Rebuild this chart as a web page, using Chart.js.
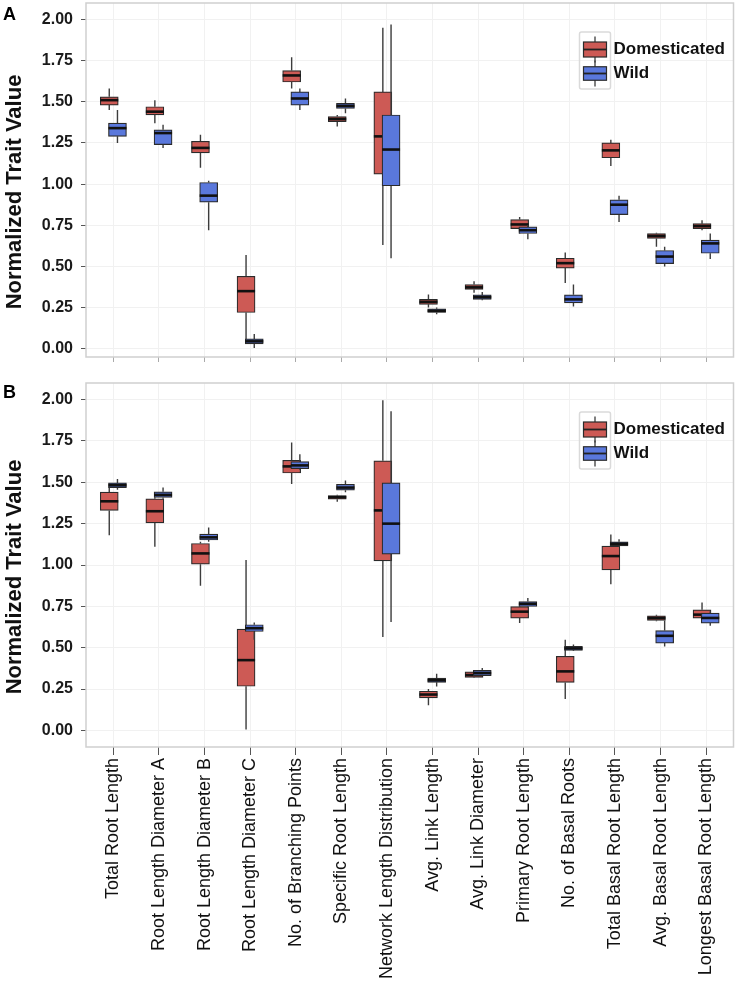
<!DOCTYPE html>
<html>
<head>
<meta charset="utf-8">
<script src="https://cdn.jsdelivr.net/npm/chart.js@4.4.1/dist/chart.umd.min.js"></script>
<style>
  body { margin: 0; background: #fff; width: 742px; height: 989px; overflow: hidden; position: relative; font-family: 'Liberation Sans', Arial, sans-serif; }
  canvas { position: absolute; left: 0; }
  #ca { top: 0; }
  #cb { top: 375px; }
  .tag { position: absolute; left: 3px; font-weight: bold; font-size: 18px; line-height: 18px; color: #000; }
</style>
</head>
<body>
<canvas id="ca" width="742" height="375"></canvas>
<canvas id="cb" width="742" height="614"></canvas>
<div class="tag" style="top:4.5px">A</div>
<div class="tag" style="top:382.5px">B</div>
<script>
const categories = ['Total Root Length', 'Root Length Diameter A', 'Root Length Diameter B', 'Root Length Diameter C',
  'No. of Branching Points', 'Specific Root Length', 'Network Length Distribution', 'Avg. Link Length',
  'Avg. Link Diameter', 'Primary Root Length', 'No. of Basal Roots', 'Total Basal Root Length',
  'Avg. Basal Root Length', 'Longest Basal Root Length'];
const yTicks = [0, 0.25, 0.5, 0.75, 1, 1.25, 1.5, 1.75, 2];

// panel A
const aDomLow  = [1.45, 1.37, 1.10, 0.05, 1.58, 1.35, 0.63, 0.25, 0.34, 0.70, 0.40, 1.11, 0.62, 0.72];
const aDomQ1   = [1.48, 1.42, 1.19, 0.22, 1.62, 1.38, 1.06, 0.27, 0.36, 0.73, 0.49, 1.16, 0.67, 0.73];
const aDomMed  = [1.51, 1.44, 1.22, 0.35, 1.66, 1.395, 1.29, 0.285, 0.373, 0.755, 0.52, 1.205, 0.685, 0.745];
const aDomQ3   = [1.53, 1.47, 1.26, 0.44, 1.69, 1.41, 1.56, 0.30, 0.39, 0.785, 0.55, 1.25, 0.70, 0.76];
const aDomHigh = [1.58, 1.51, 1.30, 0.57, 1.77, 1.42, 1.95, 0.33, 0.41, 0.80, 0.585, 1.27, 0.705, 0.78];

const aWildLow  = [1.25, 1.22, 0.72, 0.005, 1.45, 1.43, 0.55, 0.21, 0.295, 0.665, 0.257, 0.77, 0.50, 0.545];
const aWildQ1   = [1.29, 1.24, 0.89, 0.03, 1.48, 1.46, 0.99, 0.22, 0.30, 0.70, 0.278, 0.815, 0.517, 0.58];
const aWildMed  = [1.34, 1.31, 0.93, 0.045, 1.52, 1.475, 1.21, 0.23, 0.313, 0.72, 0.30, 0.875, 0.56, 0.64];
const aWildQ3   = [1.37, 1.33, 1.01, 0.06, 1.56, 1.49, 1.42, 0.243, 0.327, 0.74, 0.328, 0.905, 0.597, 0.66];
const aWildHigh = [1.45, 1.36, 1.02, 0.09, 1.58, 1.52, 1.97, 0.25, 0.345, 0.75, 0.39, 0.93, 0.62, 0.70];

// panel B
const bDomLow  = [1.18, 1.11, 0.875, 0.006, 1.49, 1.383, 0.565, 0.152, 0.318, 0.649, 0.19, 0.884, 0.66, 0.67];
const bDomQ1   = [1.33, 1.255, 1.005, 0.267, 1.556, 1.398, 1.025, 0.197, 0.321, 0.679, 0.29, 0.97, 0.665, 0.679];
const bDomMed  = [1.385, 1.325, 1.07, 0.425, 1.596, 1.41, 1.33, 0.217, 0.335, 0.718, 0.357, 1.054, 0.679, 0.70];
const bDomQ3   = [1.44, 1.40, 1.13, 0.613, 1.633, 1.42, 1.63, 0.237, 0.354, 0.749, 0.448, 1.114, 0.693, 0.729];
const bDomHigh = [1.47, 1.41, 1.14, 1.03, 1.74, 1.425, 1.995, 0.25, 0.36, 0.76, 0.548, 1.185, 0.70, 0.773];

const bWildLow  = [1.455, 1.40, 1.14, 0.548, 1.575, 1.44, 0.655, 0.265, 0.33, 0.745, 0.48, 1.11, 0.508, 0.633];
const bWildQ1   = [1.468, 1.408, 1.151, 0.598, 1.582, 1.452, 1.066, 0.291, 0.331, 0.749, 0.484, 1.116, 0.528, 0.649];
const bWildMed  = [1.482, 1.424, 1.167, 0.618, 1.602, 1.468, 1.25, 0.303, 0.347, 0.765, 0.496, 1.128, 0.572, 0.68];
const bWildQ3   = [1.496, 1.442, 1.187, 0.639, 1.625, 1.488, 1.496, 0.317, 0.363, 0.779, 0.508, 1.14, 0.604, 0.709];
const bWildHigh = [1.52, 1.468, 1.227, 0.652, 1.67, 1.51, 1.93, 0.343, 0.378, 0.80, 0.52, 1.155, 0.665, 0.72];

Chart.defaults.font.family = "'Liberation Sans', Arial, sans-serif";
Chart.defaults.color = '#1a1a1a';

const DOM_FILL = '#cd5a55';
const WILD_FILL = '#5a78dc';
const EDGE = '#2b2b2b';
const DODGE = 0.09;

function boxSet(label, fill, low, q1, med, q3, high, shift, order) {
  return {
    label: label, order: order,
    backgroundColor: fill, borderColor: EDGE, borderWidth: 1.2, borderSkipped: false,
    barThickness: 18, grouped: false,
    data: q1.map((v, i) => ({ x: i + shift, y: [v, q3[i]] })),
    box: { low: low, med: med, high: high }
  };
}

// whiskers go under each box, median on top of it
const boxPlot = {
  id: 'boxPlot',
  beforeDatasetDraw(chart, args) {
    const ds = chart.data.datasets[args.index], y = chart.scales.y, ctx = chart.ctx;
    ctx.save();
    ctx.strokeStyle = '#3c3c3c'; ctx.lineWidth = 1.4;
    args.meta.data.forEach((el, i) => {
      ctx.beginPath();
      ctx.moveTo(el.x, y.getPixelForValue(ds.box.high[i]));
      ctx.lineTo(el.x, y.getPixelForValue(ds.data[i].y[1]));
      ctx.moveTo(el.x, y.getPixelForValue(ds.data[i].y[0]));
      ctx.lineTo(el.x, y.getPixelForValue(ds.box.low[i]));
      ctx.stroke();
    });
    ctx.restore();
  },
  afterDatasetDraw(chart, args) {
    const ds = chart.data.datasets[args.index], y = chart.scales.y, ctx = chart.ctx;
    ctx.save();
    ctx.strokeStyle = '#111'; ctx.lineWidth = 2.6;
    args.meta.data.forEach((el, i) => {
      const py = y.getPixelForValue(ds.box.med[i]);
      ctx.beginPath();
      ctx.moveTo(el.x - el.width / 2, py);
      ctx.lineTo(el.x + el.width / 2, py);
      ctx.stroke();
    });
    ctx.restore();
  }
};

const panelDeco = {
  id: 'panelDeco',
  afterDraw(chart) {
    const ctx = chart.ctx, ca = chart.chartArea;
    ctx.save();
    // panel border
    ctx.strokeStyle = '#cfcfcf'; ctx.lineWidth = 1.5;
    ctx.strokeRect(ca.left, ca.top, ca.right - ca.left, ca.bottom - ca.top);

    // y title
    ctx.save();
    ctx.translate(14.5, (ca.top + ca.bottom) / 2 + 12);
    ctx.rotate(-Math.PI / 2);
    ctx.fillStyle = '#111';
    ctx.font = "bold 22px 'Liberation Sans', Arial, sans-serif";
    ctx.textAlign = 'center'; ctx.textBaseline = 'middle';
    ctx.fillText('Normalized Trait Value', 0, 0);
    ctx.restore();

    // legend
    const fx = ca.right - 154, fy = ca.top + 29;
    ctx.strokeStyle = '#dadada'; ctx.lineWidth = 1.5;
    ctx.beginPath();
    ctx.roundRect(fx, fy, 31, 57, 2);
    ctx.stroke();
    const keys = [
      { label: chart.data.datasets[0].label, fill: DOM_FILL, cy: fy + 17.5, h: 15 },
      { label: chart.data.datasets[1].label, fill: WILD_FILL, cy: fy + 41.5, h: 13.5 }
    ];
    keys.forEach(k => {
      const cx = fx + 15.5;
      ctx.strokeStyle = '#3c3c3c'; ctx.lineWidth = 1.3;
      ctx.beginPath();
      ctx.moveTo(cx, k.cy - 13); ctx.lineTo(cx, k.cy + 13);
      ctx.stroke();
      ctx.fillStyle = k.fill;
      ctx.fillRect(fx + 4, k.cy - k.h / 2, 23, k.h);
      ctx.strokeStyle = EDGE; ctx.lineWidth = 1.2;
      ctx.strokeRect(fx + 4, k.cy - k.h / 2, 23, k.h);
      ctx.lineWidth = 1.8; ctx.strokeStyle = '#222';
      ctx.beginPath();
      ctx.moveTo(fx + 4, k.cy); ctx.lineTo(fx + 27, k.cy);
      ctx.stroke();
      ctx.fillStyle = '#111';
      ctx.font = "bold 17px 'Liberation Sans', Arial, sans-serif";
      ctx.textAlign = 'left'; ctx.textBaseline = 'middle';
      ctx.fillText(k.label, fx + 34, k.cy);
    });
    ctx.restore();
  }
};

function makePanel(id, sets, yMin, padTop, xHeight, showLabels, tickLen, tickColor) {
  new Chart(document.getElementById(id), {
    type: 'bar',
    data: {
      datasets: [
        boxSet('Domesticated', DOM_FILL, sets[0], sets[1], sets[2], sets[3], sets[4], -DODGE, 1),
        boxSet('Wild', WILD_FILL, sets[5], sets[6], sets[7], sets[8], sets[9], DODGE, 0)
      ]
    },
    options: {
      responsive: false, animation: false,
      layout: { padding: { top: padTop, right: 8.5, bottom: 0, left: 0 } },
      plugins: { legend: { display: false }, tooltip: { enabled: false } },
      scales: {
        x: {
          type: 'linear', min: -0.6, max: 13.6, offset: false,
          afterBuildTicks: s => { s.ticks = categories.map((c, i) => ({ value: i })); },
          afterFit: s => { s.height = xHeight; s.paddingLeft = 0; s.paddingRight = 0; },
          border: { display: false },
          grid: { offset: false, color: '#f1f1f1', tickColor: tickColor, tickLength: tickLen },
          ticks: {
            display: showLabels, autoSkip: false, minRotation: 90, maxRotation: 90, padding: 3,
            color: '#111', font: { size: 18 },
            callback: v => categories[v]
          }
        },
        y: {
          min: yMin, max: 2.1,
          afterBuildTicks: s => { s.ticks = yTicks.map(v => ({ value: v })); },
          afterFit: s => { s.width = 86; s.paddingTop = 0; s.paddingBottom = 0; },
          border: { display: false },
          grid: { color: '#f1f1f1', tickColor: '#555', tickLength: 5 },
          ticks: { padding: 8, color: '#1a1a1a', font: { size: 16, weight: 'bold' }, callback: v => v.toFixed(2) }
        }
      }
    },
    plugins: [boxPlot, panelDeco]
  });
}

makePanel('ca', [aDomLow, aDomQ1, aDomMed, aDomQ3, aDomHigh, aWildLow, aWildQ1, aWildMed, aWildQ3, aWildHigh],
  -0.05, 3, 18, false, 5, '#aaa');
makePanel('cb', [bDomLow, bDomQ1, bDomMed, bDomQ3, bDomHigh, bWildLow, bWildQ1, bWildMed, bWildQ3, bWildHigh],
  -0.1, 8, 242, true, 8, '#555');
</script>
</body>
</html>
